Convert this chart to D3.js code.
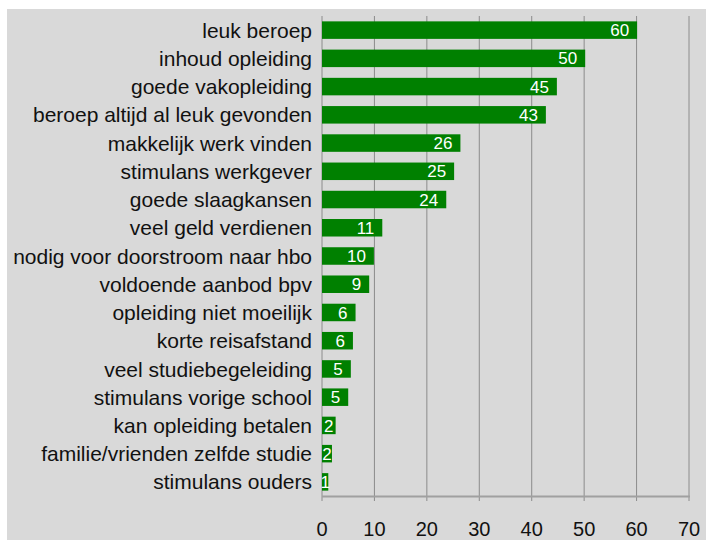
<!DOCTYPE html>
<html lang="nl">
<head>
<meta charset="utf-8">
<title>Redenen opleidingskeuze</title>
<script src="https://d3js.org/d3.v7.min.js"></script>
<style type="text/css">
body { margin: 0; background: #fff; }
svg  { display: block; font-family: "Liberation Sans", Arial, sans-serif; }
</style>
</head>
<body>
<script type="text/javascript">

// categories, top to bottom
var categories = [
  "leuk beroep", "inhoud opleiding", "goede vakopleiding", "beroep altijd al leuk gevonden",
  "makkelijk werk vinden", "stimulans werkgever", "goede slaagkansen", "veel geld verdienen",
  "nodig voor doorstroom naar hbo", "voldoende aanbod bpv", "opleiding niet moeilijk",
  "korte reisafstand", "veel studiebegeleiding", "stimulans vorige school",
  "kan opleiding betalen", "familie/vrienden zelfde studie", "stimulans ouders"
];
// percentages as drawn (bar length)
var values = [60.1, 50.2, 44.8, 42.7, 26.4, 25.2, 23.7, 11.5, 9.9, 9.0, 6.4, 5.9, 5.5, 5.0, 2.6, 1.9, 1.2];
// data labels as printed on the bars
var labels = [60, 50, 45, 43, 26, 25, 24, 11, 10, 9, 6, 6, 5, 5, 2, 2, 1];
var ticks = [0, 10, 20, 30, 40, 50, 60, 70];

var W = 706, H = 540;
var svg = d3.select("body").append("svg").attr("width", W).attr("height", H);

svg.append("rect").attr("x", 7).attr("y", 9).attr("width", W - 7).attr("height", H - 9)
   .attr("fill", "#d9d9d9");

var x = d3.scaleLinear().domain([0, 70]).range([322, 689]);
var y = d3.scaleBand().domain(categories).range([16, 496]).paddingInner(0.38).paddingOuter(0.19);

// gridlines
svg.selectAll(".grid").data(ticks).enter().append("line")
   .attr("x1", function(d) { return x(d); }).attr("x2", function(d) { return x(d); })
   .attr("y1", 16).attr("y2", 501)
   .attr("stroke", "#8c8c8c").attr("stroke-width", 1);

// bottom axis line
svg.append("line").attr("x1", 322).attr("x2", 690).attr("y1", 496.5).attr("y2", 496.5)
   .attr("stroke", "#a0a0a0").attr("stroke-width", 2);

// bars
svg.selectAll(".bar").data(values).enter().append("rect")
   .attr("x", x(0))
   .attr("y", function(d, i) { return y(categories[i]); })
   .attr("width", function(d) { return x(d) - x(0); })
   .attr("height", y.bandwidth())
   .attr("fill", "#008000");

// value labels: right inside the bar end, centred when the bar is too short
var labelSize = 17;
svg.selectAll(".val").data(values).enter().append("text")
   .attr("x", function(d, i) {
     var w = String(labels[i]).length * labelSize * 0.556;
     var bw = x(d) - x(0);
     if (bw < w + 14) return x(0) + bw / 2;
     return x(d) - 8;
   })
   .attr("text-anchor", function(d, i) {
     var w = String(labels[i]).length * labelSize * 0.556;
     return (x(d) - x(0) < w + 14) ? "middle" : "end";
   })
   .attr("y", function(d, i) { return y(categories[i]) + y.bandwidth() / 2; })
   .attr("dy", "0.36em")
   .attr("fill", "#fff")
   .attr("font-size", labelSize)
   .text(function(d, i) { return labels[i]; });

// category labels
svg.selectAll(".cat").data(categories).enter().append("text")
   .attr("x", 312)
   .attr("y", function(d) { return y(d) + y.bandwidth() / 2; })
   .attr("dy", "0.36em")
   .attr("text-anchor", "end")
   .attr("fill", "#111")
   .attr("font-size", 21)
   .text(function(d) { return d; });

// tick labels
svg.selectAll(".tick").data(ticks).enter().append("text")
   .attr("x", function(d) { return x(d); })
   .attr("y", 536)
   .attr("text-anchor", "middle")
   .attr("fill", "#111")
   .attr("font-size", 20)
   .text(function(d) { return d; });

</script>
</body>
</html>
